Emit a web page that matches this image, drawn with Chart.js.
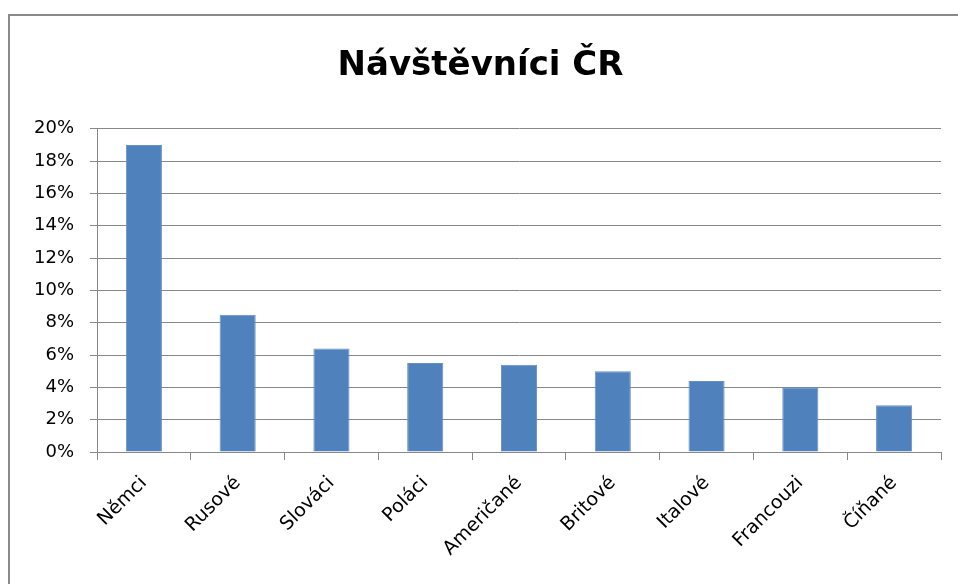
<!DOCTYPE html>
<html lang="cs">
<head>
<meta charset="utf-8">
<title>Návštěvníci ČR</title>
<script src="https://cdn.jsdelivr.net/npm/chart.js@4/dist/chart.umd.min.js"></script>
<style>
    html, body { margin: 0; padding: 0; background: #fff; overflow: hidden; }
    #wrap { position: relative; width: 958px; height: 584px; }
    #frame {
        position: absolute; left: 8px; top: 14px; width: 1000px; height: 700px;
        border-left: 2px solid #8a8a8a; border-top: 2px solid #8a8a8a;
        pointer-events: none;
    }
    canvas { position: absolute; left: 0; top: 0; }
</style>
</head>
<body>
<div id="wrap">
    <canvas id="chart" width="958" height="584"></canvas>
    <div id="frame"></div>
</div>
<script>
// Chart data
var chartTitle = 'Návštěvníci ČR';
var categories = ['Němci', 'Rusové', 'Slováci', 'Poláci', 'Američané', 'Britové', 'Italové', 'Francouzi', 'Číňané'];
var shares = [19, 8.5, 6.4, 5.5, 5.4, 5.0, 4.4, 4.0, 2.9];
var yTickLabels = ['0%', '2%', '4%', '6%', '8%', '10%', '12%', '14%', '16%', '18%', '20%'];

var gridGray = '#888888';

document.addEventListener('DOMContentLoaded', function() {
    var ctx = document.getElementById('chart');

    new Chart(ctx, {
        type: 'bar',
        data: {
            labels: categories,
            datasets: [{
                data: shares,
                backgroundColor: '#4f81bd',
                borderColor: '#6690c5',
                borderWidth: 1,
                barPercentage: 0.385,
                categoryPercentage: 1
            }]
        },
        options: {
            responsive: false,
            animation: false,
            layout: { padding: { left: 20, right: 17, top: 0, bottom: 0 } },
            plugins: {
                legend: { display: false },
                tooltip: { enabled: false },
                title: {
                    display: true,
                    text: chartTitle,
                    color: '#000',
                    font: { family: 'DejaVu Sans', size: 34, weight: 'bold' },
                    padding: { top: 46, bottom: 42 }
                }
            },
            scales: {
                x: {
                    grid: {
                        display: true,
                        drawOnChartArea: false,
                        drawTicks: true,
                        tickLength: 8,
                        color: gridGray,
                        offset: true
                    },
                    border: { display: true, color: gridGray, width: 1 },
                    ticks: {
                        color: '#000',
                        font: { family: 'DejaVu Sans', size: 19 },
                        minRotation: 45,
                        maxRotation: 45,
                        autoSkip: false,
                        padding: 12
                    },
                    afterFit: function(scale) { scale.height = 132; }
                },
                y: {
                    min: 0,
                    max: 20,
                    grid: {
                        color: gridGray,
                        lineWidth: 1,
                        drawTicks: true,
                        tickLength: 7
                    },
                    border: { display: true, color: gridGray, width: 1 },
                    ticks: {
                        stepSize: 2,
                        color: '#000',
                        font: { family: 'DejaVu Sans', size: 18 },
                        padding: 16,
                        callback: function(value, index) {
                            return yTickLabels[index];
                        }
                    },
                    afterFit: function(scale) { scale.width = 77; }
                }
            }
        }
    });
});
</script>
</body>
</html>
